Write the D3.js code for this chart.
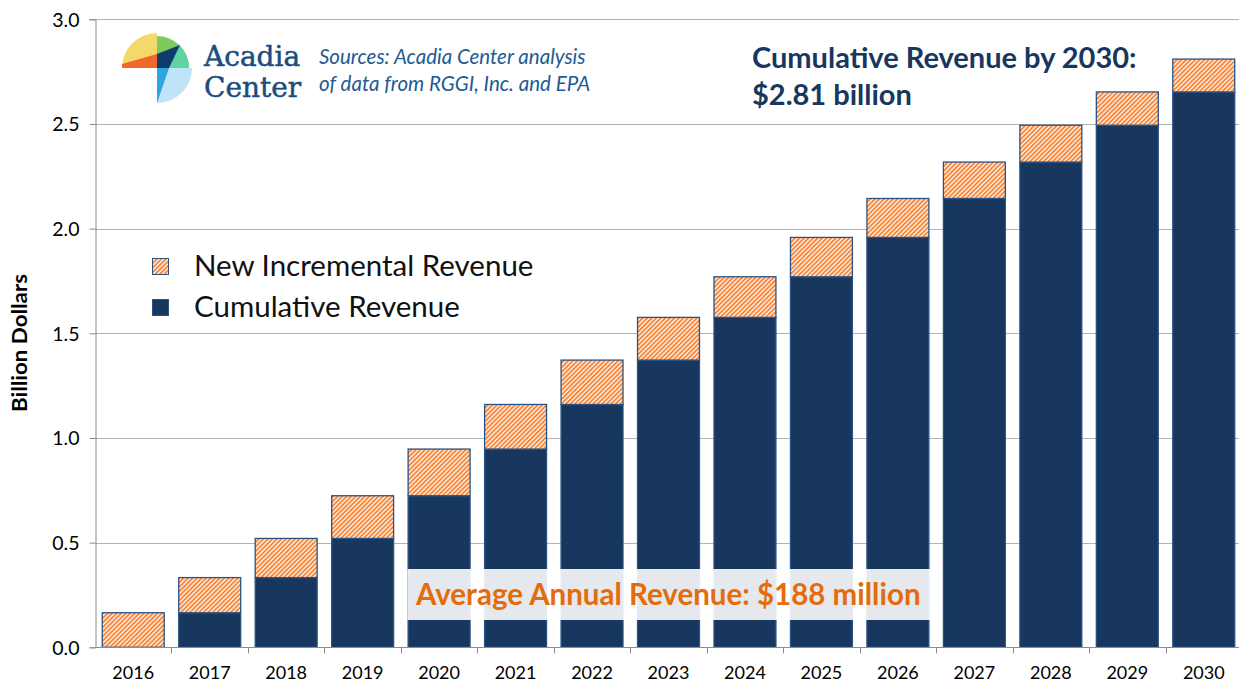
<!DOCTYPE html>
<html>
<head>
<meta charset="utf-8">
<script src="https://cdn.jsdelivr.net/npm/d3@7"></script>
<style>
  html, body { margin: 0; padding: 0; background: #ffffff; }
  svg { display: block; }
  .tick-label { font-family: Lato, "Open Sans", sans-serif; fill: #000; }
</style>
</head>
<body>
<svg id="chart" width="1239" height="683"></svg>
<script>
const WIDTH = 1239;
const HEIGHT = 683;

const YEARS = ["2016", "2017", "2018", "2019", "2020", "2021", "2022", "2023", "2024", "2025", "2026", "2027", "2028", "2029", "2030"];
// cumulative revenue at start of each year (billion $)
const CUMULATIVE = [0, 0.165, 0.333, 0.52, 0.724, 0.947, 1.16, 1.372, 1.576, 1.77, 1.958, 2.144, 2.318, 2.494, 2.653];
// new incremental revenue added in each year (billion $)
const INCREMENTAL = [0.165, 0.168, 0.187, 0.204, 0.223, 0.213, 0.212, 0.204, 0.194, 0.188, 0.186, 0.174, 0.176, 0.159, 0.157];
const Y_TICKS = [0, 0.5, 1.0, 1.5, 2.0, 2.5, 3.0];

const SERIES = ["Cumulative Revenue", "New Incremental Revenue"];
const COLORS = {
  dark: "#17375e",
  orange: "#f7873a",
  grid: "#b3b3b3",
  axis: "#8c8c8c"
};

const svg = d3.select("#chart");
const defs = svg.append("defs");

// diagonal hatch like the excel "wide upward diagonal" fill
const hatch = defs.append("pattern")
  .attr("id", "hatch")
  .attr("patternUnits", "userSpaceOnUse")
  .attr("width", 3.2)
  .attr("height", 3.2)
  .attr("patternTransform", "rotate(45)");
hatch.append("rect").attr("width", 3.2).attr("height", 3.2).attr("fill", "#ffffff");
hatch.append("rect").attr("width", 2).attr("height", 3.2).attr("fill", COLORS.orange);

const rows = YEARS.map((year, i) => ({
  year,
  cumulative: CUMULATIVE[i],
  incremental: INCREMENTAL[i]
}));

const stack = d3.stack().keys(["cumulative", "incremental"]);
const stacked = stack(rows);

const x = d3.scaleBand()
  .domain(YEARS)
  .range([95, 1242])
  .paddingInner(0.19)
  .paddingOuter(0.095);

const y = d3.scaleLinear()
  .domain([0, 3])
  .range([647.3, 19.3]);

// gridlines
svg.append("g")
  .selectAll("line")
  .data(Y_TICKS.filter((d) => d > 0))
  .join("line")
  .attr("x1", 95)
  .attr("x2", WIDTH)
  .attr("y1", (d) => Math.round(y(d)) + 0.5)
  .attr("y2", (d) => Math.round(y(d)) + 0.5)
  .attr("stroke", COLORS.grid)
  .attr("stroke-width", 1.2);

// bars
const layers = svg.append("g")
  .selectAll("g")
  .data(stacked)
  .join("g")
  .attr("fill", (d) => d.key === "cumulative" ? COLORS.dark : "url(#hatch)");

layers.selectAll("rect")
  .data((d) => d.filter((p) => p[1] - p[0] > 0))
  .join("rect")
  .attr("x", (d) => x(d.data.year))
  .attr("width", x.bandwidth())
  .attr("y", (d) => y(d[1]))
  .attr("height", (d) => y(d[0]) - y(d[1]))
  .attr("stroke", "#2a5282")
  .attr("stroke-width", 1.3);

// y axis
const yAxis = d3.axisLeft(y)
  .tickValues(Y_TICKS)
  .tickFormat(d3.format(".1f"))
  .tickSize(6)
  .tickPadding(10);

const yAxisG = svg.append("g")
  .attr("transform", "translate(95.5,0)")
  .call(yAxis);
yAxisG.select(".domain").attr("stroke", COLORS.axis);
yAxisG.selectAll(".tick line").attr("stroke", COLORS.axis);
yAxisG.selectAll(".tick text")
  .attr("class", "tick-label")
  .style("font-size", "19.5px")
  .attr("dy", "0.35em");

// x axis, ticks between categories
const xAxisG = svg.append("g")
  .attr("transform", `translate(0,${Math.round(y(0)) + 0.5})`);
xAxisG.append("line")
  .attr("x1", 95)
  .attr("x2", WIDTH)
  .attr("stroke", COLORS.axis);
const boundaries = YEARS.map((d) => x(d) - x.step() * x.paddingOuter());
xAxisG.selectAll("line.xtick")
  .data(boundaries.slice(1))
  .join("line")
  .attr("class", "xtick")
  .attr("x1", (d) => Math.round(d) + 0.5)
  .attr("x2", (d) => Math.round(d) + 0.5)
  .attr("y1", 0)
  .attr("y2", 6)
  .attr("stroke", COLORS.axis);
xAxisG.selectAll("text")
  .data(YEARS)
  .join("text")
  .attr("class", "tick-label")
  .attr("x", (d) => x(d) + x.bandwidth() / 2)
  .attr("y", 31)
  .attr("text-anchor", "middle")
  .style("font-size", "18px")
  .text((d) => d);

// y axis title
svg.append("text")
  .attr("transform", "translate(27,343) rotate(-90)")
  .attr("text-anchor", "middle")
  .attr("textLength", 138)
  .attr("lengthAdjust", "spacingAndGlyphs")
  .style("font-family", "Lato, sans-serif")
  .style("font-weight", "bold")
  .style("font-size", "21px")
  .text("Billion Dollars");

// legend
const legend = svg.append("g").attr("transform", "translate(152,0)");
const legendItems = [
  { label: SERIES[1], fill: "url(#hatch)", y: 258 },
  { label: SERIES[0], fill: COLORS.dark, y: 299 }
];
legendItems.forEach((item) => {
  legend.append("rect")
    .attr("x", 0.5)
    .attr("y", item.y + 0.5)
    .attr("width", 16)
    .attr("height", 16)
    .attr("fill", item.fill)
    .attr("stroke", "#2a5282")
    .attr("stroke-width", 1);
  legend.append("text")
    .attr("x", 42)
    .attr("y", item.y + 18)
    .style("font-family", "Lato, sans-serif")
    .style("font-size", "29.5px")
    .attr("fill", "#111")
    .text(item.label);
});

// headline
const headline = svg.append("text")
  .style("font-family", "Lato, sans-serif")
  .style("font-weight", "bold")
  .style("font-size", "29px")
  .attr("fill", "#17375e");
headline.append("tspan").attr("x", 752).attr("y", 68).text("Cumulative Revenue by 2030:");
headline.append("tspan").attr("x", 752).attr("y", 105).text("$2.81 billion");

// average annual revenue banner
svg.append("rect")
  .attr("x", 407.5)
  .attr("y", 569)
  .attr("width", 525)
  .attr("height", 51)
  .attr("fill", "#ffffff")
  .attr("fill-opacity", 0.89);
svg.append("text")
  .attr("x", 416)
  .attr("y", 605)
  .style("font-family", "Lato, sans-serif")
  .style("font-weight", "bold")
  .style("font-size", "29.5px")
  .attr("fill", "#e46c0a")
  .text("Average Annual Revenue: $188 million");

// sources note
const note = svg.append("text")
  .style("font-family", "Lato, sans-serif")
  .style("font-style", "italic")
  .style("font-size", "20.5px")
  .attr("fill", "#215a94");
note.append("tspan").attr("x", 319).attr("y", 64).text("Sources: Acadia Center analysis");
note.append("tspan").attr("x", 319).attr("y", 91).text("of data from RGGI, Inc. and EPA");

// logo
const logo = svg.append("g").attr("transform", "translate(157,68)");
const arc = d3.arc().innerRadius(0);
const deg = Math.PI / 180;
const wedges = [
  { r: 35, a0: -90, a1: 0, fill: "#f4d86c" },
  { r: 32, a0: 0, a1: 90, fill: "#7ccb5d" },
  { r: 32, a0: 42, a1: 90, fill: "#60d3a4" },
  { r: 35, a0: 90, a1: 180, fill: "#bfe3f7" }
];
logo.selectAll("path.wedge")
  .data(wedges)
  .join("path")
  .attr("class", "wedge")
  .attr("d", (d) => arc({ outerRadius: d.r, startAngle: d.a0 * deg, endAngle: d.a1 * deg }))
  .attr("fill", (d) => d.fill);
logo.append("path")
  .attr("d", "M-35,0 L-35,-4 L0,-14 L0,0 Z")
  .attr("fill", "#f2672b");
logo.append("path")
  .attr("d", "M0,0 L0,-14 L23,-23 L12,0 Z")
  .attr("fill", "#0f3c6e");
logo.append("path")
  .attr("d", "M0,0 L12,0 L0,35 Z")
  .attr("fill", "#2ba6e0");

const logoText = svg.append("text")
  .style("font-family", "\"DejaVu Serif\", serif")
  .style("font-size", "28px")
  .attr("fill", "#1a4d7f")
  .attr("stroke", "#1a4d7f")
  .attr("stroke-width", 0.5);
logoText.append("tspan").attr("x", 204).attr("y", 66).text("Acadia");
logoText.append("tspan").attr("x", 204).attr("y", 97).text("Center");
</script>
</body>
</html>
